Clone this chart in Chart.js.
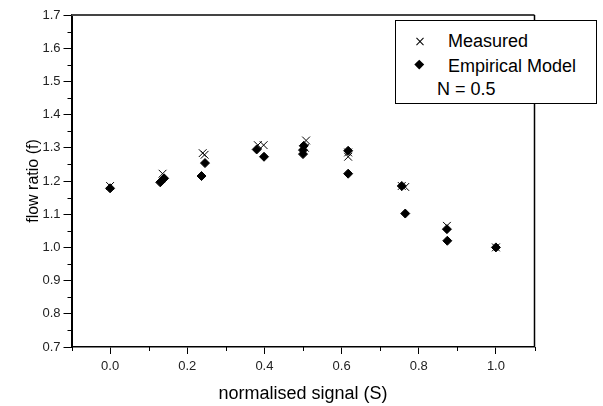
<!DOCTYPE html>
<html>
<head>
<meta charset="utf-8">
<script src="https://cdn.jsdelivr.net/npm/chart.js@4/dist/chart.umd.min.js"></script>
<style>
  html, body { margin: 0; padding: 0; background: #fff; }
  #wrap { position: relative; width: 603px; height: 406px; }
  #legend { position: absolute; left: 395px; top: 20px; width: 202px; height: 84px; box-sizing: border-box;
            border: 1px solid #000; background: #fff; font-family: 'Liberation Sans', Arial, sans-serif; font-size: 18px; color: #000; }
  #legend .t { position: absolute; line-height: 18px; white-space: nowrap; }
  #legend .x1, #legend .x2 { position: absolute; width: 10px; height: 1px; background: #000; left: 19px; top: 20px; }
  #legend .x1 { transform: rotate(45deg); }
  #legend .x2 { transform: rotate(-45deg); }
  #legend .dm { position: absolute; width: 6.5px; height: 6.5px; background: #000; left: 20.25px; top: 40px; transform: rotate(45deg); }
</style>
</head>
<body>
<div id="wrap">
  <canvas id="c" width="603" height="406"></canvas>
  <div id="legend">
    <div class="x1"></div><div class="x2"></div>
    <div class="t" style="left:52px; top:10.5px;">Measured</div>
    <div class="dm"></div>
    <div class="t" style="left:52px; top:35.5px;">Empirical Model</div>
    <div class="t" style="left:41px; top:58.8px;">N = 0.5</div>
  </div>
</div>
<script>
// ---- data ----
const measuredS = [0.0, 0.136, 0.240, 0.245, 0.383, 0.398, 0.508, 0.505, 0.617, 0.617, 0.756, 0.765, 0.873, 1.0];
const measuredF = [1.185, 1.222, 1.284, 1.279, 1.308, 1.308, 1.322, 1.300, 1.286, 1.273, 1.185, 1.182, 1.065, 1.0];
const modelS = [0.0, 0.130, 0.140, 0.237, 0.246, 0.380, 0.399, 0.502, 0.500, 0.500, 0.617, 0.617, 0.756, 0.765, 0.873, 0.874, 1.0];
const modelF = [1.178, 1.196, 1.208, 1.215, 1.254, 1.295, 1.273, 1.306, 1.293, 1.281, 1.291, 1.222, 1.185, 1.102, 1.055, 1.020, 1.0];
const xTicks = [0.0, 0.2, 0.4, 0.6, 0.8, 1.0];
const xMinorTicks = [-0.1, 0.1, 0.3, 0.5, 0.7, 0.9, 1.1];
const yTicks = [0.7, 0.8, 0.9, 1.0, 1.1, 1.2, 1.3, 1.4, 1.5, 1.6, 1.7];
const yMinorTicks = [0.75, 0.85, 0.95, 1.05, 1.15, 1.25, 1.35, 1.45, 1.55, 1.65];
const xTitle = 'normalised signal (S)';
const yTitle = 'flow ratio (f)';

const FONT = "'Liberation Sans', Arial, sans-serif";

const framePlugin = {
  id: 'frame',
  afterDraw(chart) {
    const ctx = chart.ctx;
    const a = chart.chartArea;
    const xs = chart.scales.x, ys = chart.scales.y;
    ctx.save();
    ctx.strokeStyle = '#000';
    ctx.lineWidth = 1;
    xMinorTicks.forEach(v => {
      const px = Math.round(xs.getPixelForValue(v)) + 0.5;
      ctx.beginPath(); ctx.moveTo(px, a.bottom); ctx.lineTo(px, a.bottom + 4); ctx.stroke();
    });
    yMinorTicks.forEach(v => {
      const py = Math.round(ys.getPixelForValue(v)) + 0.5;
      ctx.beginPath(); ctx.moveTo(a.left - 4, py); ctx.lineTo(a.left, py); ctx.stroke();
    });
    ctx.strokeStyle = '#444';
    ctx.lineWidth = 2;
    ctx.beginPath(); ctx.moveTo(a.left, a.top); ctx.lineTo(a.right, a.top); ctx.stroke();
    ctx.strokeStyle = '#000';
    ctx.lineWidth = 1.5;
    ctx.beginPath(); ctx.moveTo(a.right, a.top); ctx.lineTo(a.right, a.bottom); ctx.stroke();
    ctx.restore();
  }
};

new Chart(document.getElementById('c'), {
  type: 'scatter',
  data: {
    datasets: [
      {
        label: 'Measured',
        data: measuredS.map((s, i) => ({ x: s, y: measuredF[i] })),
        pointStyle: 'crossRot', pointRadius: 5.5, borderColor: '#000', backgroundColor: '#000', borderWidth: 1
      },
      {
        label: 'Empirical Model',
        data: modelS.map((s, i) => ({ x: s, y: modelF[i] })),
        pointStyle: 'rectRot', pointRadius: 4.5, borderColor: '#000', backgroundColor: '#000', borderWidth: 1
      }
    ]
  },
  options: {
    responsive: false,
    animation: false,
    layout: { padding: { left: 0, top: 15, right: 68.5, bottom: 0 } },
    plugins: { legend: { display: false }, tooltip: { enabled: false } },
    scales: {
      x: {
        type: 'linear', min: -0.1, max: 1.1,
        afterBuildTicks: s => { s.ticks = xTicks.map(v => ({ value: v })); },
        afterFit: s => { s.height = 59; },
        ticks: { font: { family: FONT, size: 13 }, color: '#222', padding: 5, maxRotation: 0,
                 callback: v => Number(v).toFixed(1) },
        grid: { drawOnChartArea: false, drawTicks: true, tickLength: 7, tickColor: '#000', tickWidth: 1 },
        border: { display: true, color: '#000', width: 1.5 },
        title: { display: true, text: xTitle, font: { family: FONT, size: 18 }, color: '#000', padding: { top: 0, bottom: 1 } }
      },
      y: {
        type: 'linear', min: 0.7, max: 1.7,
        afterBuildTicks: s => { s.ticks = yTicks.map(v => ({ value: v })); },
        afterFit: s => { s.width = 71.5; },
        ticks: { font: { family: FONT, size: 13 }, color: '#222', padding: 3,
                 callback: v => Number(v).toFixed(1) },
        grid: { drawOnChartArea: false, drawTicks: true, tickLength: 8, tickColor: '#000', tickWidth: 1 },
        border: { display: true, color: '#000', width: 2 },
        title: { display: true, text: yTitle, font: { family: FONT, size: 16 }, color: '#000', padding: { top: 24, bottom: 0 } }
      }
    }
  },
  plugins: [framePlugin]
});
</script>
</body>
</html>
